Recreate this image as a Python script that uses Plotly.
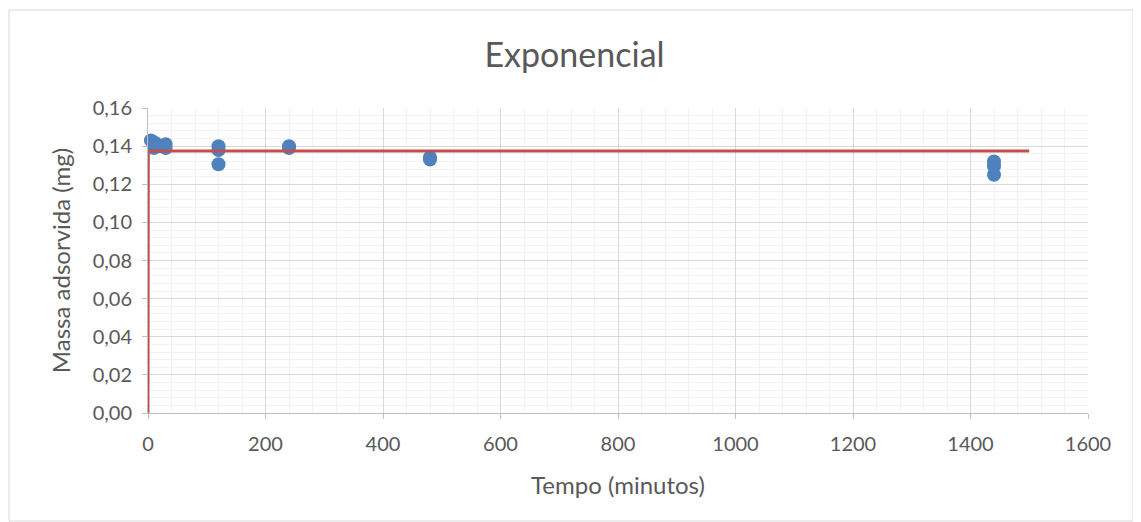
import plotly.graph_objects as go

# Experimental data
tempo = [5, 10, 10, 15, 20, 30, 30, 120, 120, 120, 240, 240, 480, 480, 1440, 1440, 1440]
massa = [0.143, 0.142, 0.139, 0.141, 0.140, 0.141, 0.139,
         0.140, 0.138, 0.1305, 0.140, 0.139, 0.134, 0.133,
         0.132, 0.1295, 0.125]

# Exponential model curve
tempo_modelo = [0, 0.5, 2, 10, 60, 300, 1500]
massa_modelo = [0, 0.1375, 0.1375, 0.1375, 0.1375, 0.1375, 0.1375]

OFF = 8  # page body margin
W, H = 1141 - OFF, 522 - OFF
L, R, T, B = 148 - OFF, 53, 108 - OFF, 109
pw, ph = W - L - R, H - T - B

fig = go.Figure()
fig.add_trace(go.Scatter(x=tempo, y=massa, mode="markers",
                         marker=dict(color="#4F81BD", size=14),
                         showlegend=False, cliponaxis=False))
fig.add_trace(go.Scatter(x=tempo_modelo, y=massa_modelo, mode="lines",
                         line=dict(color="#C0504D", width=3),
                         showlegend=False, cliponaxis=False))

font = "Lato, Open Sans, sans-serif"
fig.update_layout(
    width=W, height=H,
    margin=dict(l=L, r=R, t=T, b=B),
    paper_bgcolor="white", plot_bgcolor="white",
    separators=",.",
    font=dict(family=font, color="#595959", size=14),
    title=dict(text="Exponencial", x=0.5, xanchor="center",
               y=1 - (55 - OFF) / H, yanchor="middle",
               font=dict(size=34, color="#595959", family=font)),
    xaxis=dict(range=[0, 1600], dtick=200, tick0=0,
               showgrid=True, gridcolor="#D9D9D9", gridwidth=1,
               minor=dict(dtick=40, showgrid=True, gridcolor="#F2F2F2", gridwidth=1),
               ticks="outside", ticklen=5, tickcolor="#BFBFBF",
               ticklabelstandoff=8,
               showline=True, linecolor="#BFBFBF", linewidth=1,
               zeroline=False,
               tickfont=dict(size=20, color="#595959"),
               title=dict(text="Tempo (minutos)", font=dict(size=24, color="#595959"),
                          standoff=23)),
    yaxis=dict(range=[0, 0.16], dtick=0.02, tick0=0, tickformat=".2f",
               showgrid=True, gridcolor="#D9D9D9", gridwidth=1,
               minor=dict(dtick=0.004, showgrid=True, gridcolor="#F2F2F2", gridwidth=1),
               ticks="outside", ticklen=5, tickcolor="#BFBFBF",
               ticklabelstandoff=6,
               showline=True, linecolor="#BFBFBF", linewidth=1,
               zeroline=False,
               tickfont=dict(size=20, color="#595959"),
               title=dict(text="Massa adsorvida (mg)", font=dict(size=24, color="#595959"),
                          standoff=15)),
)

# chart-area border
fig.add_shape(type="rect", xref="paper", yref="paper",
              x0=(9 - 148) / pw, x1=(1133 - 148) / pw,
              y0=-(521 - 413) / ph, y1=(413 - 10) / ph,
              line=dict(color="#D9D9D9", width=1), layer="below")

fig.write_html("out.html")
